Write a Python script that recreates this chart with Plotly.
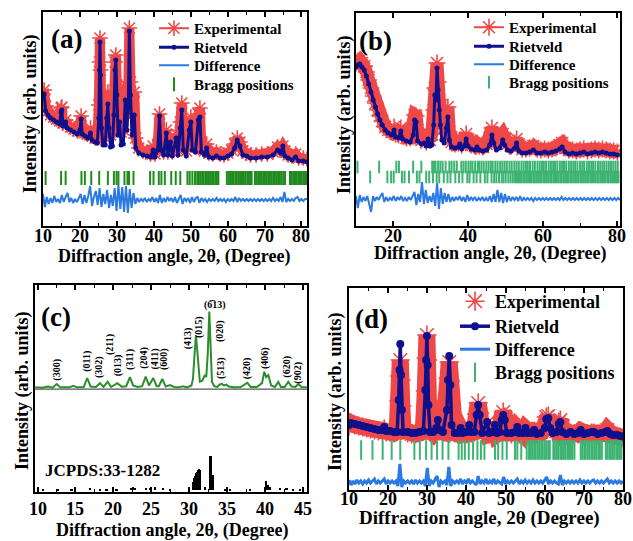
import numpy as np
import plotly.graph_objects as go

W, H = 633, 541
SERIF = "Liberation Serif, Times New Roman, serif"
RED = "#f04848"
NAVY = "#10108c"
DIFF = "#2a7ae2"
GREEN_DARK = "#1f8b1f"
GREEN_LIGHT = "#3cb371"
GREEN_C = "#2a8f2a"

# ---------------- (a) Rietveld refinement ----------------
tt_a = [10.0, 10.31, 10.71, 11.33, 12.04, 12.86, 13.68, 14.49, 14.9, 15.11,
        15.41, 16.13, 16.54, 17.46, 18.38, 19.29, 20.01, 20.32, 20.62, 21.34,
        22.05, 22.87, 23.28, 24.1, 24.71, 25.12, 25.32, 25.42, 25.58, 25.83,
        26.24, 26.85, 27.26, 27.57, 27.87, 28.28, 28.79, 29.2, 29.51, 29.72,
        30.02, 30.33, 30.73, 31.14, 31.76, 32.27, 32.68, 33.09, 33.39, 33.70,
        34.11, 34.72, 35.13, 35.94, 37.07, 38.19, 39.11, 39.82, 40.34, 41.05,
        41.56, 41.97, 42.68, 43.40, 43.81, 44.52, 45.03, 46.06, 46.57, 47.18,
        47.59, 48.0, 48.81, 49.63, 50.04, 50.45, 51.26, 52.08, 52.49, 52.9,
        53.72, 54.33, 54.94, 55.96, 56.98, 58.01, 59.03, 60.05, 61.07, 61.89,
        62.6, 63.32, 64.13, 65.16, 66.18, 67.71, 69.24, 70.77, 72.31, 73.53,
        74.35, 74.97, 75.48, 76.39, 77.41, 78.43, 79.25, 80.5, 81.5]
calc_a = [7300, 7600, 5900, 5500, 5200, 5000, 4800, 4600, 5800, 6000,
          4400, 4800, 4200, 4000, 3800, 3600, 4000, 5100, 3600, 3400,
          3200, 3700, 3000, 2800, 2700, 5200, 10000, 12800, 9500, 4200,
          2500, 2500, 5200, 6600, 4200, 2300, 2400, 5500, 10000, 11000,
          7500, 3500, 4800, 2500, 2600, 7000, 4000, 6500, 13900, 7500,
          3500, 5500, 2200, 1700, 1500, 1400, 1300, 2000, 1300, 2000,
          5400, 2000, 1500, 3700, 1500, 2800, 1400, 3200, 1500, 4200,
          6000, 2000, 1400, 4000, 4800, 2000, 1800, 5000, 5300, 1800,
          1500, 2200, 1300, 1200, 1400, 1200, 1200, 1400, 1600, 2200,
          3000, 2400, 1500, 1400, 1200, 1200, 1300, 1300, 1500, 2000,
          1700, 2400, 1400, 1200, 1000, 1300, 900, 900, 800]
obs_a = [7600, 8000, 6400, 5900, 5500, 5300, 5100, 4900, 6200, 6300,
         4700, 5000, 4500, 4300, 4100, 3900, 4300, 5400, 3800, 3700,
         3600, 4200, 3400, 3200, 3200, 6500, 10800, 13200, 10000, 5500,
         3400, 3600, 6500, 7800, 5600, 3500, 3800, 7000, 10800, 11500,
         8500, 5000, 5500, 3800, 4000, 8500, 5500, 8000, 14200, 8800,
         5500, 7800, 3200, 2200, 1900, 1800, 1600, 2400, 1600, 2500,
         5600, 2400, 1800, 4000, 1800, 3200, 1800, 3600, 2000, 4800,
         6700, 2600, 1900, 4500, 5300, 2500, 2300, 5600, 6200, 2300,
         1900, 2600, 1700, 1600, 1800, 1600, 1500, 1700, 2000, 2600,
         3200, 2800, 1900, 1700, 1500, 1500, 1600, 1600, 1800, 2300,
         2000, 2400, 1800, 1500, 1400, 1600, 1200, 1200, 1100]
diff_a = [600, -700, 300, -400, 200, -300, 400, -200, 100, -300,
          500, -200, 300, 700, -200, 200, -300, 100, -200, 300,
          600, -400, 500, -300, 400, 1400, -600, 300, 900, -500,
          1200, -700, 600, -400, 1000, -800, 500, -600, 1200, -1100,
          1500, -900, 1300, -1200, 1400, -1300, 1100, -800, 700, -400,
          200, -200, 100, -100, 200, -200, 100, -100, 300, -200,
          200, -300, 500, -300, 200, -200, 300, -100, 200, -200,
          300, -300, 200, 500, -400, 200, -100, 200, -300, 300,
          -200, 200, 300, -300, 200, -100, 100, -200, 100, -100,
          100, -100, 200, -100, 100, -100, 100, -200, 100, -100,
          100, -100, 300, -200, 200, -100, 100, -100, 100, -100,
          100, -100, 100, -100, 100, -100, 100, -100, 100, -100,
          100, -100, 200, -100, 100, -100, 300, -200, 800, -200,
          100, -100, 100, -100, 200, 300, -100, 100, -100, 100,
          100]
bragg_a = [10.71, 14.9, 16.13, 20.42, 21.34, 23.07, 25.22, 27.57, 29.2, 29.92,
           30.43, 32.06, 32.88, 33.29, 34.51, 39.01, 39.93, 41.36, 42.07, 42.99,
           44.73, 45.95, 47.18, 49.12, 49.73, 50.45, 51.16, 51.78,
           52.2, 52.6, 53.1, 53.5, 54.0, 54.4, 54.9, 55.3, 55.8, 56.2, 56.7, 57.1, 57.5,
           59.8, 60.3, 60.7, 61.2, 61.6, 62.1, 62.5, 63.0, 63.4, 63.9, 64.3, 64.75,
           65.3, 65.7, 66.1, 66.5,
           67.4, 67.85, 68.3, 68.75, 69.2, 69.65, 70.1, 70.55, 71.0, 71.45, 71.9,
           72.35, 72.8, 73.25, 73.7, 74.15, 74.6, 75.1, 75.55,
           76.9, 77.35, 77.8, 78.25, 78.7, 79.15, 79.6, 80.05, 80.5, 80.95, 81.4]

# ---------------- (b) Rietveld refinement ----------------
tt_b = [10.0, 10.5, 11.0, 11.6, 12.2, 12.8, 13.4, 14.0, 14.6, 15.2,
        15.8, 16.4, 17.0, 17.8, 18.6, 19.5, 20.2, 20.6, 21.4, 22.0,
        22.5, 23.5, 24.5, 25.3, 25.7, 26.1, 26.5, 27.5, 28.3, 28.8,
        29.3, 29.8, 30.3, 30.8, 31.1, 31.4, 31.7, 32.0, 32.3, 32.6,
        33.0, 33.6, 34.2, 34.6, 35.0, 35.6, 36.5, 37.4, 37.8, 38.3,
        39.0, 39.5, 40.0, 40.8, 41.8, 42.4, 43.0, 44.0, 45.0, 45.8,
        46.4, 46.9, 47.6, 48.5, 49.3, 49.8, 50.5, 51.5, 52.5, 53.0,
        53.6, 54.5, 55.5, 56.5, 57.5, 58.5, 59.5, 60.5, 61.5, 62.5,
        63.5, 64.5, 65.2, 66.0, 67.0, 68.0, 69.0, 70.0, 71.0, 72.0,
        73.0, 74.0, 75.0, 76.0, 77.0, 78.0, 79.0, 80.0]
calc_b = [10300, 10500, 10600, 10300, 10000, 9400, 8600, 7800, 7000, 6300,
          5600, 5000, 4500, 4000, 3700, 3500, 4000, 3300, 3200, 3900,
          3100, 2900, 2800, 3500, 5000, 4800, 2900, 2600, 2700, 2400,
          3100, 2400, 2500, 4500, 7500, 7000, 10200, 8000, 6000, 4500,
          3000, 2700, 4200, 5300, 3000, 2300, 2200, 2300, 2600, 2100,
          2400, 3100, 2400, 2100, 2000, 2300, 2000, 1900, 2000, 2500,
          3500, 2700, 2000, 2200, 3000, 2500, 2000, 1900, 2200, 2700,
          1900, 1700, 1700, 1800, 2000, 1700, 1700, 1800, 1700, 1800,
          1900, 2100, 2300, 1800, 1600, 1700, 1600, 1700, 1800, 1600,
          1700, 1800, 1700, 1800, 1700, 1600, 1600, 1500]
obs_b = [10700, 10900, 11000, 10700, 10400, 9800, 9000, 8200, 7400, 6700,
         6000, 5400, 4900, 4300, 4000, 3800, 4300, 3600, 3500, 4200,
         3400, 3200, 3200, 4500, 5500, 5400, 4000, 3000, 3100, 2800,
         3600, 3000, 3600, 6000, 8200, 8000, 10700, 8800, 7000, 5800,
         4500, 4200, 5200, 6300, 3800, 2800, 2600, 2700, 3000, 2500,
         2900, 3600, 2900, 2500, 2400, 2700, 2400, 2300, 2600, 3200,
         4200, 3600, 3000, 3200, 3600, 3200, 2600, 2400, 2700, 3100,
         2400, 2100, 2100, 2200, 2400, 2100, 2000, 2100, 2000, 2100,
         2200, 2500, 2700, 2200, 2000, 2000, 1900, 2000, 2100, 1900,
         2000, 2100, 2000, 2100, 2000, 1900, 1900, 1800]
diff_b = [300, -900, 400, -300, 200, -200, 300, -400, -1300, 300,
          -200, 200, -100, 300, 600, -300, 200, -200, 100, -100,
          300, -200, 200, -100, 300, -200, 100, -200, 200, -100,
          300, 700, -600, 500, -300, 1700, -500, 900, -400, 300,
          -300, 600, -700, 1600, -1000, 1100, -500, 600, -300, 500,
          -300, 200, -200, 200, -100, 300, -200, 200, -300, 400,
          -200, 200, -100, 200, -200, 100, -100, 200, -200, 100,
          -200, 300, -300, 500, -300, 900, -300, 600, -400, 500,
          -300, 300, -200, 200, -100, 200, -200, 300, -200, 100,
          -100, 100, -100, 100, -200, 100, -100, 100, -100, 100,
          -100, 100, -100, 100, -100, 100, -100, 100, -100, 200,
          -100, 100, -100, 100, -100, 100, -100, 100, -100, 100,
          -100, 100, -100, 100, -100, 100, -100, 100, -100, 100,
          -100, 100, -100, 100, -100, 100, -100, 100, -100, 100,
          -100]
bragg_b_phase1 = [10.4, 16.2, 20.8, 21.5, 25.3, 27.5, 30.4, 30.9, 31.3, 32.0,
                  32.6, 33.2, 34.0, 35.0, 35.6, 36.3, 37.0, 38.2, 38.8, 39.4,
                  40.1, 40.7, 41.2, 41.9, 42.6, 43.0, 43.6, 44.2, 44.9, 45.5,
                  46.1, 46.6, 47.3, 47.9, 48.6, 49.2, 49.8, 50.4, 51.1, 51.7,
                  52.4, 53.0, 53.6, 54.3, 54.9, 55.5, 56.0, 56.6, 57.3, 57.9,
                  58.6, 59.2, 59.8, 60.3, 60.9, 61.6, 62.2, 62.8, 63.3, 63.9,
                  64.6, 65.2, 65.7, 66.3, 67.0, 67.6, 68.2, 68.7, 69.3, 70.0,
                  70.6, 71.1, 71.8, 72.4, 73.0, 73.5, 74.1, 74.8, 75.4, 76.0,
                  76.5, 77.1, 77.7, 78.3, 78.9, 79.5, 80.1]
bragg_b_phase2 = [13.8, 18.4, 19.4, 20.1, 22.3, 23.0, 24.2, 26.3, 27.0, 28.8,
                  29.6, 30.6, 31.6, 32.3, 33.5, 34.5, 35.3, 36.6, 37.6, 38.5,
                  39.8, 40.4, 41.5, 42.3, 43.3, 44.5, 45.2, 46.3, 47.0, 47.6,
                  48.3, 49.0, 49.5, 50.1, 50.8, 51.4, 52.0, 52.6,
                  53.0, 53.4, 53.9, 54.3, 54.8, 55.2, 55.7, 56.1, 56.6, 57.0,
                  57.5, 57.9, 58.4, 58.8, 59.3, 59.7, 60.2, 60.6, 61.1, 61.5,
                  62.0, 62.4, 62.9, 63.3, 63.8, 64.2, 64.7, 65.1, 65.6, 66.0,
                  66.5, 66.9, 67.4, 67.8, 68.3, 68.7, 69.2, 69.6, 70.1, 70.5,
                  71.0, 71.4, 71.9, 72.3, 72.8, 73.2, 73.7, 74.1, 74.6, 75.0,
                  75.5, 75.9, 76.4, 76.8, 77.3, 77.7, 78.2, 78.6, 79.1, 79.5,
                  79.9, 80.3]

# ---------------- (c) measured pattern and JCPDS reference ----------------
tt_c = [9.7, 10.6, 11.4, 12.0, 12.53, 13.0, 14.2, 14.72, 15.2, 16.1,
        16.56, 17.0, 17.7, 18.24, 18.7, 19.25, 19.7, 20.52, 21.1, 21.7,
        22.19, 22.6, 23.2, 23.8, 24.26, 24.7, 25.27, 25.7, 26.0, 26.45,
        26.9, 27.47, 28.0, 28.6, 29.2, 29.7, 30.3, 30.5, 30.68, 30.89,
        31.05, 31.2, 31.4, 31.7, 32.08, 32.25, 32.45, 32.65, 32.85, 33.0,
        33.3, 33.7, 34.0, 34.28, 34.6, 34.9, 35.2, 35.9, 36.8, 37.66,
        38.1, 38.9, 39.6, 39.9, 40.15, 40.43, 40.8, 41.3, 41.74, 42.1,
        42.6, 43.06, 43.5, 44.0, 44.38, 44.8, 45.5]
pattern_c = [0.5, 0, 1.5, 0, 4.9, 0.5, 0.5, 2.5, 0.5, 1,
             12.8, 1.5, 1, 6, 1, 8, 1, 6, 1.5, 2,
             14, 3, 1, 2, 14.5, 3, 12.8, 2, 2, 11.5,
             1.5, 3.5, 1, 0.5, 2, 0.5, 3, 12, 40, 69,
             50, 25, 8, 9, 16.7, 14, 45, 100, 50, 8,
             2, 1, 4, 5, 3, 4, 1.5, 0.5, 1, 6.6,
             1, 1, 6, 21, 14, 16.7, 3, 1, 7.5, 1,
             1, 7.9, 1.5, 1, 4.9, 1, 0.5]
hkl_c = ["(300)", "(011)", "(302)", "(211)", "(013)", "(311)", "(204)", "(411)", "(600)",
         "(413)", "(015)", "(6\u030513)", "(020)", "(513)", "(420)", "(406)", "(620)", "(902)"]
hkl_tt_c = [12.53, 16.49, 18.11, 19.56, 20.65, 22.19, 23.95, 25.36, 26.68,
            29.88, 31.29, 33.37, 34.06, 34.19, 37.66, 39.99, 42.85, 44.30]
ref_tt_c = [10.76, 12.74, 14.51, 16.92, 18.24, 19.12, 20.44, 22.42, 22.63, 22.85,
            24.39, 24.83, 25.49, 26.58, 27.47, 30.55, 30.68, 30.81, 30.94, 31.07,
            31.2, 31.33, 31.46, 32.08, 32.85, 33.15, 34.72, 35.38, 38.0, 40.21,
            40.4, 40.65, 41.97, 42.85, 43.72, 44.6]
ref_int_c = [5, 4, 4, 6, 5, 5, 4, 8, 10, 7,
             8, 7, 9, 8, 5, 26, 36, 44, 50, 55,
             59, 62, 60, 9, 100, 46, 5, 5, 5, 28,
             15, 9, 6, 6, 5, 5]

# ---------------- (d) Rietveld refinement ----------------
tt_d = [10.0, 10.5, 11.5, 12.5, 13.5, 14.5, 15.5, 16.5, 17.5, 18.5,
        19.0, 19.5, 20.5, 21.5, 22.3, 22.7, 22.9, 23.1, 23.3, 23.5,
        23.8, 25.0, 26.0, 27.0, 28.0, 29.0, 29.5, 29.7, 29.9, 30.1,
        30.3, 30.7, 31.5, 32.3, 32.7, 33.1, 34.0, 35.0, 35.3, 35.6,
        35.9, 36.2, 37.0, 37.8, 38.5, 39.0, 40.0, 40.7, 41.2, 42.0,
        42.6, 43.0, 43.4, 44.0, 45.3, 45.8, 46.5, 47.3, 47.8, 48.5,
        49.0, 49.4, 49.8, 50.3, 51.5, 52.5, 53.0, 53.5, 54.5, 55.1,
        55.6, 56.5, 57.3, 58.0, 59.0, 60.0, 60.4, 60.9, 61.4, 62.0,
        63.0, 63.6, 64.0, 64.5, 65.5, 66.6, 67.5, 68.5, 69.2, 70.0,
        71.0, 72.0, 72.6, 73.5, 74.5, 75.5, 76.0, 76.8, 77.5, 78.5,
        79.3, 80.0]
calc_d = [1100, 1300, 1200, 1100, 1000, 900, 800, 700, 600, 600,
          900, 500, 500, 400, 400, 3600, 6600, 9200, 6100, 2600,
          400, 400, 300, 300, 400, 500, 4600, 7600, 10000, 7100,
          3100, 400, 400, 800, 1600, 600, 400, 2600, 5600, 8000,
          5100, 1100, 300, 300, 800, 300, 400, 1100, 400, 400,
          2100, 3100, 2100, 300, 1400, 300, 400, 1100, 300, 400,
          1600, 2100, 1600, 300, 300, 400, 900, 300, 300, 800,
          300, 300, 600, 200, 300, 800, 1700, 1800, 800, 300,
          400, 1200, 1400, 400, 200, 400, 200, 300, 600, 200,
          300, 400, 400, 200, 300, 400, 500, 200, 100, 100,
          0, -100]
obs_d = [1000, 1300, 1100, 1000, 900, 800, 700, 600, 500, 500,
         700, 400, 400, 300, 500, 3500, 6000, 7600, 5600, 3000,
         600, 300, 200, 200, 300, 700, 4500, 7800, 10100, 7600,
         3500, 600, 300, 700, 1500, 500, 400, 2800, 5800, 7400,
         5500, 1500, 300, 200, 600, 200, 300, 1000, 300, 400,
         2200, 3300, 2300, 300, 1300, 200, 300, 1000, 200, 400,
         1800, 2400, 1900, 300, 200, 300, 800, 200, 200, 700,
         200, 200, 500, 200, 400, 1000, 1900, 2000, 1100, 400,
         500, 1400, 1600, 500, 100, 300, 100, 200, 500, 100,
         200, 300, 300, 100, 200, 300, 600, 100, 0, 0,
         -100, -200]
diff_d = [200, -300, 100, -200, 200, -100, 100, -200, 100, -100,
          200, -100, 100, 300, -200, 100, -100, 100, 300, -200,
          100, -100, 100, -100, 100, -400, 1800, -500, 100, -100,
          100, -100, 100, -200, 200, -100, 100, -100, 100, -400,
          1400, -400, 100, -100, 200, 600, -500, 100, -100, 100,
          -300, 1500, -400, 100, -100, 100, -100, 300, -200, 100,
          -100, 300, -100, 100, -100, -300, 600, -200, 100, -100,
          300, -200, 100, -100, 300, -200, 100, -100, -200, 500,
          -200, 100, -100, 100, -100, 100, 300, -200, 100, -100,
          200, -100, 100, -100, 200, -100, 100, -100, 100, -100,
          200, 500, -200, 100, -100, 100, -100, -200, 700, -300,
          100, -100, 100, -100, 100, -100, 100, -100, 200, -100,
          100, -100, 100, -100, 100, 200, -100, 100, -100, 100,
          -100, 100, 300, -100, 100, -100, 100, -100, 100, -100,
          100]
bragg_d = [13.1, 16.0, 18.6, 20.9, 23.1, 26.7, 28.1, 29.7, 31.1, 32.5,
           33.9, 35.4, 38.0, 38.8, 39.6, 40.6, 41.7, 42.8, 43.7, 44.6,
           47.3, 48.1, 49.2, 50.3, 52.4, 53.0, 54.0, 55.4,
           56.0, 56.4, 56.8, 57.3, 57.7, 58.2, 58.6, 59.1, 59.5, 60.0, 60.4, 60.9, 61.3,
           62.2, 62.6, 63.1, 63.5, 64.0, 64.4, 64.9, 65.3, 65.8, 66.2, 66.7, 67.1, 67.6,
           69.2, 69.6, 70.1, 70.5, 71.0, 71.4, 71.9, 72.3, 72.8, 73.2, 73.7, 74.1, 74.6,
           75.6, 76.0, 76.5, 76.9, 77.4, 77.8, 78.3, 78.7, 79.2, 79.6]


def paper(x, y):
    return x / W, 1 - y / H


def bold(size):
    return dict(family=SERIF, size=size, color="black", weight="bold")


fig = go.Figure()
legends = {}


def legend_slot(name, x, y, size):
    lx, ly = paper(x, y)
    legends[name] = dict(x=lx, y=ly, xanchor="left", yanchor="top",
                         bgcolor="rgba(0,0,0,0)", borderwidth=0, font=bold(size),
                         tracegroupgap=0, itemwidth=30)


def refinement(sfx, slots, tt, obs, calc, diff, diff_span, diff_shift, rows,
               green, band_w, star, calc_w, dot, diff_w, tick_h, exp_mode):
    xa, ya = "x" + sfx, "y" + sfx
    fig.add_trace(go.Scatter(x=tt, y=obs, mode="lines", xaxis=xa, yaxis=ya,
                             line=dict(color=RED, width=band_w), showlegend=False,
                             hoverinfo="skip"))
    fig.add_trace(go.Scatter(x=tt, y=obs, mode=exp_mode, xaxis=xa, yaxis=ya,
                             name="Experimental", legend=slots[0],
                             line=dict(color=RED, width=2),
                             marker=dict(symbol="asterisk-open", size=star,
                                         line=dict(color=RED, width=1.6))))
    fig.add_trace(go.Scatter(x=tt, y=calc, mode="lines+markers", xaxis=xa, yaxis=ya,
                             name="Rietveld", legend=slots[1],
                             line=dict(color=NAVY, width=calc_w),
                             marker=dict(symbol="circle", size=dot, color=NAVY)))
    dx = np.linspace(diff_span[0], diff_span[1], len(diff))
    fig.add_trace(go.Scatter(x=dx, y=np.array(diff) + diff_shift, mode="lines",
                             xaxis=xa, yaxis=ya, name="Difference", legend=slots[2],
                             line=dict(color=DIFF, width=diff_w)))
    for i, (pos, level) in enumerate(rows):
        fig.add_trace(go.Scatter(x=pos, y=[level] * len(pos), mode="markers",
                                 xaxis=xa, yaxis=ya, name="Bragg positions",
                                 legend=slots[3], showlegend=(i == 0),
                                 marker=dict(symbol="line-ns", size=tick_h,
                                             line=dict(color=green, width=2))))


# one legend box per entry so the row spacing can follow the panel layout
slots_a = ["legend", "legend2", "legend3", "legend4"]
slots_b = ["legend5", "legend6", "legend7", "legend8"]
slots_d = ["legend9", "legend10", "legend11", "legend12"]
for name, top in zip(slots_a, [12, 31, 49, 68]):
    legend_slot(name, 154, top, 15)
for name, top in zip(slots_b, [11, 30, 48, 66]):
    legend_slot(name, 469, top, 15)
for name, top in zip(slots_d, [283, 308, 331, 354]):
    legend_slot(name, 455, top, 18)

refinement("", slots_a, tt_a, obs_a, calc_a, diff_a, (10, 81.5), -3000,
           [(bragg_a, -800)], GREEN_DARK, 10, 13, 3, 5, 2, 10, "lines+markers")
refinement("2", slots_b, tt_b, obs_b, calc_b, diff_b, (10, 80.7), -2900,
           [(bragg_b_phase1, 300), (bragg_b_phase2, -700)], GREEN_LIGHT,
           13, 14, 3, 5, 2, 9, "lines+markers")
refinement("4", slots_d, tt_d, obs_d, calc_d, diff_d, (10, 80), -4600,
           [(bragg_d, -1400)], GREEN_LIGHT, 17, 16, 3.5, 8, 3, 14, "markers")

# (c): measured pattern stacked above the reference sticks
PATTERN_SHIFT = 135
STICK_SCALE = 0.447
fig.add_trace(go.Scatter(x=tt_c, y=np.array(pattern_c) + PATTERN_SHIFT, mode="lines",
                         xaxis="x3", yaxis="y3", showlegend=False,
                         line=dict(color=GREEN_C, width=2)))
fig.add_trace(go.Bar(x=ref_tt_c, y=np.array(ref_int_c) * STICK_SCALE, width=0.22,
                     xaxis="x3", yaxis="y3", showlegend=False,
                     marker=dict(color="black", line=dict(width=0))))

# hkl label heights above the pattern baseline (layout only)
hkl_lift = [23.3, 35.1, 27.3, 56.2, 29.9, 37.8, 39.7, 37.1, 37.8,
            65.4, 79.8, 108.7, 74.6, 25.9, 25.9, 39.1, 27.3, 19.4]

annotations = []
for lab, t, lift in zip(hkl_c, hkl_tt_c, hkl_lift):
    annotations.append(dict(x=t, y=PATTERN_SHIFT + lift, xref="x3", yref="y3",
                            text=lab, showarrow=False,
                            textangle=0 if "\u0305" in lab else -90,
                            font=bold(10), xanchor="center", yanchor="middle"))
annotations.append(dict(x=18.57, y=26.3, xref="x3", yref="y3", text="JCPDS:33-1282",
                        showarrow=False, font=bold(17), xanchor="center",
                        yanchor="middle"))


def label(x, y, text, size, angle=0):
    px_, py_ = paper(x, y)
    annotations.append(dict(x=px_, y=py_, xref="paper", yref="paper", text=text,
                            showarrow=False, font=bold(size), textangle=angle,
                            xanchor="center", yanchor="middle"))


def tick_labels(xref, values, y):
    _, py_ = paper(0, y)
    for v in values:
        annotations.append(dict(x=v, y=py_, xref=xref, yref="paper", text=str(v),
                                showarrow=False, font=bold(18),
                                xanchor="center", yanchor="middle"))


tick_labels("x", [10, 20, 30, 40, 50, 60, 70, 80], 236)
tick_labels("x2", [20, 40, 60, 80], 236)
tick_labels("x3", [10, 15, 20, 25, 30, 35, 40, 45], 509)
tick_labels("x4", [10, 20, 30, 40, 50, 60, 70, 80], 499)

label(66, 39, "(a)", 27)
label(376, 41, "(b)", 27)
label(56, 317, "(c)", 27)
label(371, 319, "(d)", 27)
label(174.5, 256, "Diffraction angle, 2θ, (Degree)", 18)
label(490, 254, "Diffraction angle, 2θ, (Degree)", 18)
label(172.5, 530, "Diffraction angle, 2θ, (Degree)", 18)
label(480, 518, "Diffraction angle, 2θ (Degree)", 19)
label(30, 114, "Intensity (arb. units)", 18, -90)
label(344, 115, "Intensity (arb. units)", 18, -90)
label(22, 391, "Intensity (arb. units)", 18, -90)
label(335, 392, "Intensity (arb. units)", 18, -90)


def xaxis(x0, x1, y_anchor, rng, dtick, minor):
    return dict(domain=[x0 / W, x1 / W], anchor=y_anchor, range=rng,
                showline=True, linecolor="black", linewidth=1.6, mirror="ticks",
                ticks="inside", ticklen=5, tickwidth=1.5, tickcolor="black",
                tick0=0, dtick=dtick, showticklabels=False,
                minor=dict(ticks="inside", ticklen=3, dtick=minor,
                           tickcolor="black", tickwidth=1.2),
                showgrid=False, zeroline=False)


def yaxis(top, bottom, x_anchor, rng):
    return dict(domain=[1 - bottom / H, 1 - top / H], anchor=x_anchor, range=rng,
                showline=True, linecolor="black", linewidth=1.6, mirror=True,
                ticks="", showticklabels=False, showgrid=False, zeroline=False)


fig.update_layout(
    width=W, height=H, autosize=False,
    margin=dict(l=0, r=0, t=0, b=0),
    paper_bgcolor="white", plot_bgcolor="white",
    xaxis=xaxis(43, 307, "y", [10, 81.5], 10, 5),
    yaxis=yaxis(12, 226, "x", [-5600, 15800]),
    xaxis2=xaxis(356, 620, "y2", [10, 80.7], 20, 10),
    yaxis2=yaxis(13, 226, "x2", [-5600, 15700]),
    xaxis3=xaxis(35, 307, "y3", [9.67, 45.53], 5, 2.5),
    yaxis3=yaxis(285, 492, "x3", [-2, 270]),
    xaxis4=xaxis(349, 623, "y4", [10, 80], 10, 5),
    yaxis4=yaxis(288, 490, "x4", [-5400, 14800]),
    annotations=annotations,
    shapes=[dict(type="line", xref="x3 domain", yref="y3", x0=0, x1=1,
                 y0=133.3, y1=133.3, line=dict(color="#555555", width=1.2))],
    showlegend=True,
    bargap=0,
    **legends,
)

fig.write_html("out.html", include_plotlyjs=True, config={"displayModeBar": False})
